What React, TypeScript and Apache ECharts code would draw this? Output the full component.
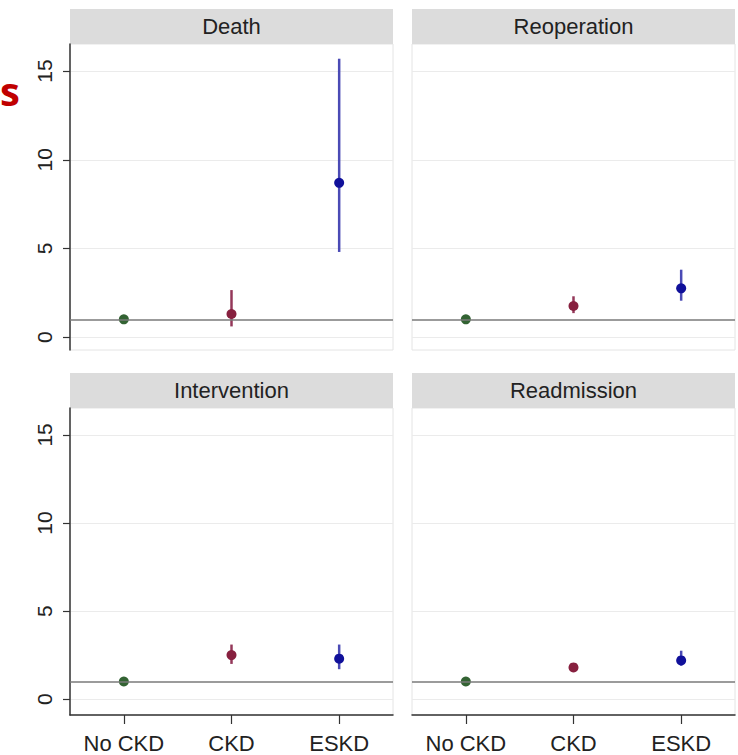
import React, { useEffect, useRef } from "react";
import * as echarts from "echarts";

const categories = ["No CKD", "CKD", "ESKD"];
const panelTitles = ["Death", "Reoperation", "Intervention", "Readmission"];

const deathEst = [1, 1.3, 8.7];
const deathLow = [null, 0.6, 4.8];
const deathHigh = [null, 2.65, 15.7];

const reopEst = [1, 1.75, 2.75];
const reopLow = [null, 1.35, 2.05];
const reopHigh = [null, 2.3, 3.8];

const intervEst = [1, 2.5, 2.3];
const intervLow = [null, 2.0, 1.7];
const intervHigh = [null, 3.1, 3.1];

const readmEst = [1, 1.8, 2.2];
const readmLow = [null, 1.62, 1.9];
const readmHigh = [null, 1.98, 2.75];

const yTicks = [0, 5, 10, 15];
const referenceValue = 1;

const dotColors = ["#336333", "#87203f", "#10109a"];
const ciColors = ["#336333", "#94385a", "#4a4ab5"];

const FONT = '"Liberation Sans", Arial, sans-serif';

export default function App() {
  const ref = useRef<HTMLDivElement>(null);

  useEffect(() => {
    if (!ref.current) return;
    const chart = echarts.init(ref.current, null, { renderer: "svg" });

    const panels = [
      { est: deathEst, low: deathLow, high: deathHigh },
      { est: reopEst, low: reopLow, high: reopHigh },
      { est: intervEst, low: intervLow, high: intervHigh },
      { est: readmEst, low: readmLow, high: readmHigh },
    ];

    const gridBoxes = [
      { left: 70, top: 44, width: 323, height: 306, min: -0.73, max: 16.53 },
      { left: 412, top: 44, width: 323, height: 306, min: -0.73, max: 16.53 },
      { left: 70, top: 408, width: 323, height: 307, min: -0.9, max: 16.53 },
      { left: 412, top: 408, width: 323, height: 307, min: -0.9, max: 16.53 },
    ];

    const grid = gridBoxes.map((g) => ({
      left: g.left,
      top: g.top,
      width: g.width,
      height: g.height,
      show: true,
      borderColor: "#e4e4e4",
      borderWidth: 1,
      backgroundColor: "#ffffff",
    }));

    const xAxis = gridBoxes.map((g, i) => {
      const bottom = i >= 2;
      return {
        type: "category",
        gridIndex: i,
        data: categories,
        boundaryGap: true,
        axisLine: {
          show: bottom,
          onZero: false,
          lineStyle: { color: "#333333", width: 1.5 },
        },
        axisTick: {
          show: bottom,
          alignWithLabel: true,
          length: 9,
          lineStyle: { color: "#333333", width: 1.2 },
        },
        axisLabel: {
          show: bottom,
          fontFamily: FONT,
          fontSize: 22,
          color: "#222222",
          margin: 17,
        },
        splitLine: { show: false },
      };
    });

    const yAxis = gridBoxes.map((g, i) => {
      const left = i % 2 === 0;
      return {
        type: "value",
        gridIndex: i,
        min: g.min,
        max: g.max,
        axisLine: { show: left, onZero: false, lineStyle: { color: "#333333", width: 1.5 } },
        axisTick: {
          show: left,
          length: 7,
          customValues: yTicks,
          lineStyle: { color: "#333333", width: 1.2 },
        },
        axisLabel: {
          show: left,
          customValues: yTicks,
          rotate: 90,
          fontFamily: FONT,
          fontSize: 21,
          color: "#222222",
          margin: 15,
        },
        splitLine: { show: true, lineStyle: { color: "#ebebeb", width: 1 } },
      };
    });

    const series: any[] = [];
    panels.forEach((p, i) => {
      const ciData: any[] = [];
      p.est.forEach((_, k) => {
        if (p.low[k] != null && p.high[k] != null) ciData.push([k, p.low[k], p.high[k]]);
      });
      series.push({
        type: "custom",
        xAxisIndex: i,
        yAxisIndex: i,
        z: 2,
        encode: { x: 0, y: [1, 2] },
        data: ciData,
        renderItem: (params: any, api: any) => {
          const k = api.value(0);
          const a = api.coord([k, api.value(1)]);
          const b = api.coord([k, api.value(2)]);
          return {
            type: "line",
            shape: { x1: a[0], y1: a[1], x2: b[0], y2: b[1] },
            style: { stroke: ciColors[k], lineWidth: 2.5 },
          };
        },
        markLine: {
          silent: true,
          symbol: "none",
          label: { show: false },
          lineStyle: { color: "#7a7a7a", width: 1.6, type: "solid" },
          data: [{ yAxis: referenceValue }],
        },
      });
      series.push({
        type: "scatter",
        xAxisIndex: i,
        yAxisIndex: i,
        z: 3,
        symbol: "circle",
        symbolSize: 10,
        itemStyle: { opacity: 1 },
        data: p.est.map((v, k) => ({
          value: [k, v],
          itemStyle: { color: dotColors[k], opacity: 1 },
        })),
      });
    });

    const graphic: any[] = [];
    gridBoxes.forEach((g, i) => {
      const headerTop = g.top - 35;
      graphic.push({
        type: "rect",
        shape: { x: g.left, y: headerTop, width: g.width, height: 35 },
        style: { fill: "#dcdcdc" },
        silent: true,
      });
      graphic.push({
        type: "text",
        x: g.left + g.width / 2,
        y: headerTop + 17,
        style: {
          text: panelTitles[i],
          fill: "#222222",
          font: `22px ${FONT}`,
          textAlign: "center",
          textVerticalAlign: "middle",
        },
        silent: true,
      });
    });
    graphic.push({
      type: "text",
      x: 0,
      y: 90,
      style: {
        text: "s",
        fill: "#c00000",
        font: 'bold 40px "Open Sans", sans-serif',
        textAlign: "left",
        textVerticalAlign: "middle",
      },
      silent: true,
    });

    chart.setOption({
      animation: false,
      backgroundColor: "#ffffff",
      grid,
      xAxis,
      yAxis,
      series,
      graphic,
    });

    return () => chart.dispose();
  }, []);

  return (
    <div
      ref={ref}
      style={{ position: "absolute", left: 0, top: 0, width: 738, height: 755 }}
    />
  );
}
